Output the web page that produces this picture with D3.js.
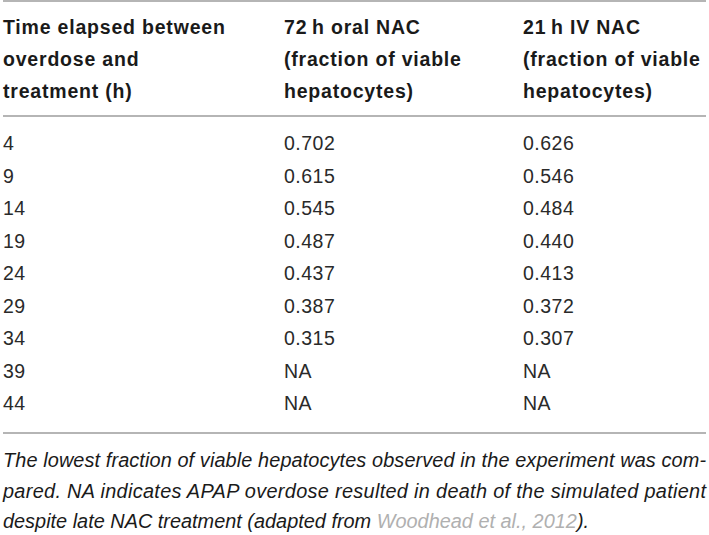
<!DOCTYPE html>
<html>
<head>
<meta charset="utf-8">
<script src="https://cdn.jsdelivr.net/npm/d3@7"></script>
<style>
  body { margin: 0; background: #fff; }
  svg { display: block; font-family: "Liberation Sans", Arial, sans-serif; }
  .head { font-weight: bold; font-size: 19.5px; fill: #1a1a1a; letter-spacing: 0.8px; }
  .cell { font-size: 19.5px; fill: #2a2a2a; letter-spacing: 0.5px; }
  .caption { font-style: italic; font-size: 19.9px; fill: #1a1a1a; }
  .rule { stroke: #b5b5b5; stroke-width: 2; }
</style>
</head>
<body>
<svg id="table" width="709" height="535"></svg>
<script>
// table content
const columns = ["time", "oral", "iv"];
const headerLines = [
  ["Time elapsed between", "overdose and", "treatment (h)"],
  ["72\u2009h oral NAC", "(fraction of viable", "hepatocytes)"],
  ["21\u2009h IV NAC", "(fraction of viable", "hepatocytes)"]
];
const times = [4, 9, 14, 19, 24, 29, 34, 39, 44];
const oralNAC = [0.702, 0.615, 0.545, 0.487, 0.437, 0.387, 0.315, null, null];
const ivNAC = [0.626, 0.546, 0.484, 0.440, 0.413, 0.372, 0.307, null, null];
const captionLines = [
  "The lowest fraction of viable hepatocytes observed in the experiment was com-",
  "pared. NA indicates APAP overdose resulted in death of the simulated patient",
  "despite late NAC treatment (adapted from "
];
const citation = "Woodhead et al., 2012";

const svg = d3.select("#table");
const left = 3, right = 706;

const x = d3.scaleOrdinal().domain(columns).range([left, 284, 523]);
const headY = d3.scalePoint().domain([0, 1, 2]).range([34, 98]);
const rowY = d3.scalePoint().domain(times).range([150, 410]);
const capY = d3.scalePoint().domain([0, 1, 2]).range([467, 528]);

const fmt = v => v == null ? "NA" : d3.format(".3f")(v);

// rules
[1, 116, 433].forEach(yy => {
  svg.append("line").attr("class", "rule")
    .attr("x1", left).attr("x2", right).attr("y1", yy).attr("y2", yy);
});

// header
columns.forEach((c, ci) => {
  svg.append("g").selectAll("text")
    .data(headerLines[ci])
    .enter().append("text")
    .attr("class", "head")
    .attr("x", x(c))
    .attr("y", (d, i) => headY(i))
    .text(d => d);
});

// rows
const rows = times.map((t, i) => ({ time: t, oral: fmt(oralNAC[i]), iv: fmt(ivNAC[i]) }));
const rowG = svg.append("g").selectAll("g")
  .data(rows)
  .enter().append("g")
  .attr("transform", d => `translate(0,${rowY(d.time)})`);
columns.forEach(c => {
  rowG.append("text")
    .attr("class", "cell")
    .attr("x", x(c))
    .text(d => d[c]);
});

// caption, first two lines justified
captionLines.forEach((line, i) => {
  const t = svg.append("text")
    .attr("class", "caption")
    .attr("x", left)
    .attr("y", capY(i));
  if (i < 2) {
    t.attr("textLength", right - left).attr("lengthAdjust", "spacing").text(line);
  } else {
    t.append("tspan").text(line);
    t.append("tspan").attr("fill", "#b0b0b0").text(citation);
    t.append("tspan").text(").");
  }
});
</script>
</body>
</html>
